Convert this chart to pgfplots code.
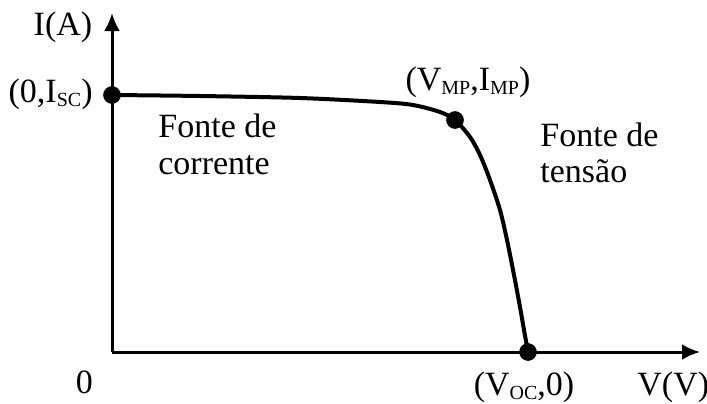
\documentclass[border=0pt]{standalone}
\usepackage{fontspec}
\setmainfont{Liberation Serif}
\usepackage{pgfplots}
\pgfplotsset{compat=1.18}
\usetikzlibrary{arrows.meta}

% small lowered subscript
\newcommand{\sub}[1]{\raisebox{-2pt}{\fontsize{10pt}{10pt}\selectfont #1}}

\begin{document}
\begin{tikzpicture}
\fontsize{17pt}{20pt}\selectfont
\useasboundingbox (-56pt,-25.5pt) rectangle (297.5pt,176pt);
\begin{axis}[
  at={(0,0)}, anchor=origin,
  x=0.5pt, y=0.5pt,
  xmin=0, xmax=588, ymin=0, ymax=339,
  axis lines=none, clip=false,
]
  % axes with arrow heads
  \draw[line width=1.5pt, -{Latex[length=9pt,width=8pt]}] (axis cs:0,0) -- (axis cs:588,0);
  \draw[line width=1.5pt, -{Latex[length=9pt,width=8pt]}] (axis cs:0,0) -- (axis cs:0,339);
  % I-V curve of the module
  \addplot[line width=2pt, smooth, tension=0.5] coordinates {
    (0,257) (88,256) (188,254) (268,250) (301,247) (328,240) (343,232)
    (358,215) (368,197) (378,172) (388,142) (395,112) (402,77)
    (408,45) (412,22) (416,0)
  };
  % characteristic points: Isc, MPP, Voc
  \addplot[only marks, mark=*, mark size=4.2pt, black] coordinates {
    (0,257) (343,232) (416,0)
  };
\end{axis}
\node[anchor=base] at (-24.5pt,158.5pt) {I(A)};
\node[anchor=base east, inner sep=0pt] at (-9.5pt,125pt) {(0,I\sub{SC})};
\node[anchor=base, inner sep=0pt] at (178pt,131pt) {(V\sub{MP},I\sub{MP})};
\node[anchor=base west, inner sep=0pt] at (23pt,107.5pt) {Fonte de};
\node[anchor=base west, inner sep=0pt] at (23pt,89pt) {corrente};
\node[anchor=base west, inner sep=0pt] at (214pt,103pt) {Fonte de};
\node[anchor=base west, inner sep=0pt] at (214pt,85pt) {tensão};
\node[anchor=base, inner sep=0pt] at (-13.75pt,-20.5pt) {0};
\node[anchor=base, inner sep=0pt] at (206pt,-21.5pt) {(V\sub{OC},0)};
\node[anchor=base west, inner sep=0pt] at (262.5pt,-21.5pt) {V(V)};
\end{tikzpicture}
\end{document}
